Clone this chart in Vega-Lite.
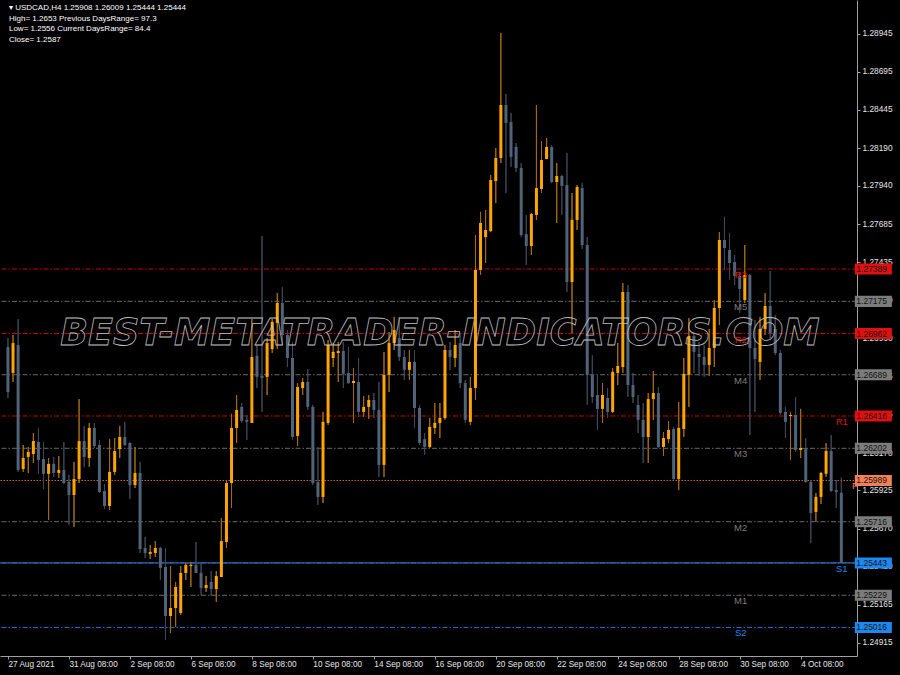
{
  "$schema": "https://vega.github.io/schema/vega-lite/v6.json",
  "width": 857,
  "height": 656,
  "autosize": {"type": "none"},
  "padding": {"left": 0, "top": 0, "right": 43, "bottom": 19},
  "background": "#000000",
  "config": {"view": {"stroke": null}, "font": "Liberation Sans"},
  "datasets": {
    "candles": [
      {"i":0,"o":1.26873,"h":1.26932,"l":1.26535,"c":1.26575},
      {"i":1,"o":1.26701,"h":1.26952,"l":1.26641,"c":1.26899},
      {"i":2,"o":1.26886,"h":1.27058,"l":1.26046,"c":1.26059},
      {"i":3,"o":1.26065,"h":1.26224,"l":1.26046,"c":1.26138},
      {"i":4,"o":1.26145,"h":1.26211,"l":1.26039,"c":1.26178},
      {"i":5,"o":1.26165,"h":1.26303,"l":1.26105,"c":1.2625},
      {"i":6,"o":1.26244,"h":1.26337,"l":1.26033,"c":1.26125},
      {"i":7,"o":1.26131,"h":1.26244,"l":1.25932,"c":1.26033},
      {"i":8,"o":1.26033,"h":1.26138,"l":1.25728,"c":1.26099},
      {"i":9,"o":1.26099,"h":1.26145,"l":1.26013,"c":1.26039},
      {"i":10,"o":1.26039,"h":1.26151,"l":1.26006,"c":1.26059},
      {"i":11,"o":1.26059,"h":1.26244,"l":1.25965,"c":1.25972},
      {"i":12,"o":1.25979,"h":1.26026,"l":1.25695,"c":1.25893},
      {"i":13,"o":1.25893,"h":1.26112,"l":1.25682,"c":1.25999},
      {"i":14,"o":1.25999,"h":1.26528,"l":1.25972,"c":1.2625},
      {"i":15,"o":1.2625,"h":1.2635,"l":1.26079,"c":1.26145},
      {"i":16,"o":1.26138,"h":1.2637,"l":1.26079,"c":1.26337},
      {"i":17,"o":1.26337,"h":1.2637,"l":1.26204,"c":1.26217},
      {"i":18,"o":1.26224,"h":1.26257,"l":1.25906,"c":1.25913},
      {"i":19,"o":1.25919,"h":1.25965,"l":1.258,"c":1.2582},
      {"i":20,"o":1.2582,"h":1.26263,"l":1.25794,"c":1.26046},
      {"i":21,"o":1.26046,"h":1.2627,"l":1.26026,"c":1.26184},
      {"i":22,"o":1.26197,"h":1.2635,"l":1.26138,"c":1.26277},
      {"i":23,"o":1.26277,"h":1.26377,"l":1.26217,"c":1.26224},
      {"i":24,"o":1.26237,"h":1.26244,"l":1.25866,"c":1.25959},
      {"i":25,"o":1.25959,"h":1.26211,"l":1.25939,"c":1.26039},
      {"i":26,"o":1.26039,"h":1.26112,"l":1.25509,"c":1.25535},
      {"i":27,"o":1.25542,"h":1.25615,"l":1.25476,"c":1.25509},
      {"i":28,"o":1.25503,"h":1.25562,"l":1.25469,"c":1.25516},
      {"i":29,"o":1.25509,"h":1.25588,"l":1.25483,"c":1.25542},
      {"i":30,"o":1.25542,"h":1.25549,"l":1.2533,"c":1.2541},
      {"i":31,"o":1.25417,"h":1.25542,"l":1.24933,"c":1.25092},
      {"i":32,"o":1.25092,"h":1.25423,"l":1.24979,"c":1.25145},
      {"i":33,"o":1.25145,"h":1.25317,"l":1.2502,"c":1.25284},
      {"i":34,"o":1.25112,"h":1.25423,"l":1.25099,"c":1.25377},
      {"i":35,"o":1.25377,"h":1.25443,"l":1.2533,"c":1.2543},
      {"i":36,"o":1.25423,"h":1.2545,"l":1.25284,"c":1.2543},
      {"i":37,"o":1.2543,"h":1.25582,"l":1.25377,"c":1.25377},
      {"i":38,"o":1.25377,"h":1.25443,"l":1.25231,"c":1.25277},
      {"i":39,"o":1.25277,"h":1.25357,"l":1.25251,"c":1.25297},
      {"i":40,"o":1.25317,"h":1.2539,"l":1.25225,"c":1.2527},
      {"i":41,"o":1.2527,"h":1.2539,"l":1.25185,"c":1.25357},
      {"i":42,"o":1.2535,"h":1.25741,"l":1.2535,"c":1.25588},
      {"i":43,"o":1.25582,"h":1.25992,"l":1.25542,"c":1.25972},
      {"i":44,"o":1.25972,"h":1.2643,"l":1.25807,"c":1.26337},
      {"i":45,"o":1.26337,"h":1.26555,"l":1.26237,"c":1.26456},
      {"i":46,"o":1.26476,"h":1.26502,"l":1.2637,"c":1.26383},
      {"i":47,"o":1.2639,"h":1.26423,"l":1.26257,"c":1.26377},
      {"i":48,"o":1.2637,"h":1.27058,"l":1.2637,"c":1.26807},
      {"i":49,"o":1.26814,"h":1.26886,"l":1.26602,"c":1.26675},
      {"i":50,"o":1.26682,"h":1.27607,"l":1.26443,"c":1.26668},
      {"i":51,"o":1.26675,"h":1.26932,"l":1.26555,"c":1.26899},
      {"i":52,"o":1.26859,"h":1.27058,"l":1.26833,"c":1.27039},
      {"i":53,"o":1.27032,"h":1.2723,"l":1.26859,"c":1.27164},
      {"i":54,"o":1.27164,"h":1.2727,"l":1.26886,"c":1.26952},
      {"i":55,"o":1.26952,"h":1.26985,"l":1.2674,"c":1.268},
      {"i":56,"o":1.268,"h":1.26906,"l":1.26257,"c":1.26277},
      {"i":57,"o":1.26284,"h":1.26634,"l":1.26217,"c":1.26608},
      {"i":58,"o":1.26601,"h":1.26668,"l":1.26555,"c":1.26641},
      {"i":59,"o":1.26641,"h":1.26727,"l":1.26456,"c":1.26476},
      {"i":60,"o":1.26476,"h":1.26489,"l":1.25959,"c":1.25972},
      {"i":61,"o":1.25979,"h":1.26211,"l":1.25827,"c":1.2588},
      {"i":62,"o":1.2588,"h":1.26443,"l":1.2584,"c":1.26377},
      {"i":63,"o":1.2637,"h":1.26919,"l":1.26357,"c":1.26886},
      {"i":64,"o":1.268,"h":1.26899,"l":1.2674,"c":1.2684},
      {"i":65,"o":1.26833,"h":1.26906,"l":1.26641,"c":1.26846},
      {"i":66,"o":1.26846,"h":1.26906,"l":1.26601,"c":1.26695},
      {"i":67,"o":1.26701,"h":1.26873,"l":1.26628,"c":1.26634},
      {"i":68,"o":1.26634,"h":1.26734,"l":1.2637,"c":1.26648},
      {"i":69,"o":1.26641,"h":1.268,"l":1.2641,"c":1.26443},
      {"i":70,"o":1.26443,"h":1.26548,"l":1.2641,"c":1.26476},
      {"i":71,"o":1.26476,"h":1.26555,"l":1.26397,"c":1.26522},
      {"i":72,"o":1.26522,"h":1.26568,"l":1.26403,"c":1.26456},
      {"i":73,"o":1.26456,"h":1.26641,"l":1.26013,"c":1.26092},
      {"i":74,"o":1.26092,"h":1.2684,"l":1.26013,"c":1.26688},
      {"i":75,"o":1.26688,"h":1.26972,"l":1.26575,"c":1.26899},
      {"i":76,"o":1.26899,"h":1.27072,"l":1.26853,"c":1.26985},
      {"i":77,"o":1.26932,"h":1.27072,"l":1.2678,"c":1.26807},
      {"i":78,"o":1.26807,"h":1.26853,"l":1.26655,"c":1.26721},
      {"i":79,"o":1.26721,"h":1.26853,"l":1.26655,"c":1.26774},
      {"i":80,"o":1.26774,"h":1.26853,"l":1.26337,"c":1.26469},
      {"i":81,"o":1.26469,"h":1.26489,"l":1.26224,"c":1.26237},
      {"i":82,"o":1.26263,"h":1.26303,"l":1.26158,"c":1.26211},
      {"i":83,"o":1.26211,"h":1.26403,"l":1.26204,"c":1.26344},
      {"i":84,"o":1.26337,"h":1.26502,"l":1.26297,"c":1.2637},
      {"i":85,"o":1.2637,"h":1.26502,"l":1.2627,"c":1.26403},
      {"i":86,"o":1.26403,"h":1.26886,"l":1.2639,"c":1.26853},
      {"i":87,"o":1.26853,"h":1.26906,"l":1.26721,"c":1.26807},
      {"i":88,"o":1.268,"h":1.26985,"l":1.2674,"c":1.26886},
      {"i":89,"o":1.26899,"h":1.26965,"l":1.26601,"c":1.26634},
      {"i":90,"o":1.26634,"h":1.26655,"l":1.2637,"c":1.2639},
      {"i":91,"o":1.26377,"h":1.26675,"l":1.26357,"c":1.26602},
      {"i":92,"o":1.26602,"h":1.27614,"l":1.26522,"c":1.27383},
      {"i":93,"o":1.27383,"h":1.27767,"l":1.2735,"c":1.27694},
      {"i":94,"o":1.276,"h":1.2778,"l":1.27429,"c":1.27647},
      {"i":95,"o":1.2764,"h":1.28012,"l":1.27633,"c":1.27978},
      {"i":96,"o":1.27971,"h":1.2819,"l":1.27826,"c":1.28124},
      {"i":97,"o":1.28124,"h":1.28952,"l":1.28091,"c":1.28475},
      {"i":98,"o":1.28475,"h":1.28548,"l":1.27892,"c":1.28356},
      {"i":99,"o":1.28362,"h":1.28422,"l":1.28065,"c":1.28131},
      {"i":100,"o":1.28197,"h":1.28223,"l":1.28032,"c":1.28058},
      {"i":101,"o":1.28058,"h":1.28091,"l":1.276,"c":1.27614},
      {"i":102,"o":1.2762,"h":1.27747,"l":1.27416,"c":1.27541},
      {"i":103,"o":1.27541,"h":1.2776,"l":1.27482,"c":1.27753},
      {"i":104,"o":1.27747,"h":1.28475,"l":1.27714,"c":1.27925},
      {"i":105,"o":1.27919,"h":1.28236,"l":1.27892,"c":1.28111},
      {"i":106,"o":1.28117,"h":1.28256,"l":1.28117,"c":1.28197},
      {"i":107,"o":1.28197,"h":1.2821,"l":1.27958,"c":1.27965},
      {"i":108,"o":1.27965,"h":1.28091,"l":1.27694,"c":1.28005},
      {"i":109,"o":1.28005,"h":1.28012,"l":1.27747,"c":1.27939},
      {"i":110,"o":1.27945,"h":1.28157,"l":1.27237,"c":1.27303},
      {"i":111,"o":1.27303,"h":1.27892,"l":1.26965,"c":1.27714},
      {"i":112,"o":1.27714,"h":1.27945,"l":1.27647,"c":1.27932},
      {"i":113,"o":1.27925,"h":1.27958,"l":1.27521,"c":1.27548},
      {"i":114,"o":1.27548,"h":1.276,"l":1.26489,"c":1.26688},
      {"i":115,"o":1.26688,"h":1.2682,"l":1.26502,"c":1.26542},
      {"i":116,"o":1.26555,"h":1.26688,"l":1.26324,"c":1.26463},
      {"i":117,"o":1.26463,"h":1.26634,"l":1.2637,"c":1.26555},
      {"i":118,"o":1.26535,"h":1.26601,"l":1.26403,"c":1.26443},
      {"i":119,"o":1.26443,"h":1.26734,"l":1.26436,"c":1.26708},
      {"i":120,"o":1.26701,"h":1.26899,"l":1.26621,"c":1.26747},
      {"i":121,"o":1.2674,"h":1.27296,"l":1.26701,"c":1.27237},
      {"i":122,"o":1.27237,"h":1.27283,"l":1.26542,"c":1.26621},
      {"i":123,"o":1.26621,"h":1.26701,"l":1.26502,"c":1.26542},
      {"i":124,"o":1.26489,"h":1.26555,"l":1.26303,"c":1.2639},
      {"i":125,"o":1.2639,"h":1.26502,"l":1.26105,"c":1.26277},
      {"i":126,"o":1.26277,"h":1.26568,"l":1.26105,"c":1.26528},
      {"i":127,"o":1.26528,"h":1.26714,"l":1.2639,"c":1.26568},
      {"i":128,"o":1.26568,"h":1.26608,"l":1.26204,"c":1.26211},
      {"i":129,"o":1.26211,"h":1.2631,"l":1.26151,"c":1.2627},
      {"i":130,"o":1.26263,"h":1.26383,"l":1.26237,"c":1.26324},
      {"i":131,"o":1.2633,"h":1.26344,"l":1.25992,"c":1.25999},
      {"i":132,"o":1.25999,"h":1.26509,"l":1.25926,"c":1.26337},
      {"i":133,"o":1.2633,"h":1.268,"l":1.26277,"c":1.26695},
      {"i":134,"o":1.26688,"h":1.27065,"l":1.26476,"c":1.26946},
      {"i":135,"o":1.26946,"h":1.26972,"l":1.26701,"c":1.2684},
      {"i":136,"o":1.26826,"h":1.26906,"l":1.26682,"c":1.26807},
      {"i":137,"o":1.26807,"h":1.26886,"l":1.26675,"c":1.26754},
      {"i":138,"o":1.26754,"h":1.26992,"l":1.26682,"c":1.26866},
      {"i":139,"o":1.26866,"h":1.27184,"l":1.2674,"c":1.27131},
      {"i":140,"o":1.27131,"h":1.27633,"l":1.27018,"c":1.27581},
      {"i":141,"o":1.27581,"h":1.27734,"l":1.27383,"c":1.27528},
      {"i":142,"o":1.27515,"h":1.27627,"l":1.27316,"c":1.27429},
      {"i":143,"o":1.27435,"h":1.27482,"l":1.27283,"c":1.27343},
      {"i":144,"o":1.27343,"h":1.2737,"l":1.27098,"c":1.27257},
      {"i":145,"o":1.27184,"h":1.27548,"l":1.27164,"c":1.2735},
      {"i":146,"o":1.2735,"h":1.27356,"l":1.2629,"c":1.26866},
      {"i":147,"o":1.26866,"h":1.27052,"l":1.26443,"c":1.26793},
      {"i":148,"o":1.26774,"h":1.27072,"l":1.26655,"c":1.26992},
      {"i":149,"o":1.26992,"h":1.2723,"l":1.26952,"c":1.27144},
      {"i":150,"o":1.27144,"h":1.27376,"l":1.26919,"c":1.26965},
      {"i":151,"o":1.26992,"h":1.27085,"l":1.2682,"c":1.26833},
      {"i":152,"o":1.26833,"h":1.26853,"l":1.26423,"c":1.26436},
      {"i":153,"o":1.26443,"h":1.26476,"l":1.2627,"c":1.26377},
      {"i":154,"o":1.26416,"h":1.26443,"l":1.26125,"c":1.26423},
      {"i":155,"o":1.26423,"h":1.26542,"l":1.26178,"c":1.26191},
      {"i":156,"o":1.26191,"h":1.26463,"l":1.26138,"c":1.26204},
      {"i":157,"o":1.26204,"h":1.2627,"l":1.25972,"c":1.25979},
      {"i":158,"o":1.25979,"h":1.25992,"l":1.25575,"c":1.25774},
      {"i":159,"o":1.25781,"h":1.25906,"l":1.25715,"c":1.2588},
      {"i":160,"o":1.2588,"h":1.26046,"l":1.25834,"c":1.26039},
      {"i":161,"o":1.26033,"h":1.26237,"l":1.26013,"c":1.26184},
      {"i":162,"o":1.26184,"h":1.2629,"l":1.25913,"c":1.25919},
      {"i":163,"o":1.25926,"h":1.25992,"l":1.25807,"c":1.25913},
      {"i":164,"o":1.25908,"h":1.26009,"l":1.25444,"c":1.25444}
    ],
    "levels": [
      {"name":"R3","kind":"R","price":1.27389},
      {"name":"M5","kind":"M","price":1.27175},
      {"name":"R2","kind":"R","price":1.26962},
      {"name":"M4","kind":"M","price":1.26689},
      {"name":"R1","kind":"R","price":1.26416},
      {"name":"M3","kind":"M","price":1.26202},
      {"name":"P","kind":"P","price":1.25989},
      {"name":"M2","kind":"M","price":1.25716},
      {"name":"S1","kind":"S","price":1.25443},
      {"name":"M1","kind":"M","price":1.25229},
      {"name":"S2","kind":"S","price":1.25016}
    ]
  },
  "layer": [
    {
      "data": {"name": "candles"},
      "mark": {"type": "rule", "strokeWidth": 1},
      "encoding": {
        "x": {
          "field": "i", "type": "quantitative",
          "scale": {"domain": [-0.58, 166.1], "nice": false, "zero": false},
          "axis": {
            "values": [0,12,24,36,48,60,72,84,96,108,120,132,144,156],
            "labelExpr": "['27 Aug 2021','31 Aug 08:00','2 Sep 08:00','6 Sep 08:00','8 Sep 08:00','10 Sep 08:00','14 Sep 08:00','16 Sep 08:00','20 Sep 08:00','22 Sep 08:00','24 Sep 08:00','28 Sep 08:00','30 Sep 08:00','4 Oct 08:00'][round(datum.value/12)]",
            "labelAlign": "left", "labelBaseline": "top", "labelColor": "#e6e6e6",
            "labelFont": "Liberation Sans", "labelFontSize": 8.2, "labelPadding": 1,
            "labelOverlap": false, "labelFlush": false,
            "tickColor": "#a0a0a0", "tickSize": 3, "domainColor": "#a0a0a0",
            "grid": false, "title": null
          }
        },
        "y": {
          "field": "l", "type": "quantitative",
          "scale": {"domain": [1.24827, 1.2917], "nice": false, "zero": false},
          "axis": {
            "orient": "right",
            "values": [1.28945,1.28695,1.28445,1.2819,1.2794,1.27685,1.27435,1.2718,1.2693,1.26675,1.26425,1.2617,1.25925,1.2567,1.2542,1.25165,1.24915],
            "format": ".5f", "labelAlign": "left", "labelBaseline": "middle",
            "labelColor": "#e6e6e6", "labelFont": "Liberation Sans", "labelFontSize": 8.3,
            "labelPadding": 2, "labelOverlap": false, "labelFlush": false,
            "tickColor": "#a0a0a0", "tickSize": 3, "domainColor": "#a0a0a0",
            "grid": false, "title": null
          }
        },
        "y2": {"field": "h"},
        "color": {"condition": {"test": "datum.c >= datum.o", "value": "#a36c12"}, "value": "#3c4859"}
      }
    },
    {
      "data": {"name": "levels"},
      "mark": {"type": "rule", "strokeWidth": 1},
      "encoding": {
        "y": {"field": "price", "type": "quantitative"},
        "stroke": {"field": "kind", "type": "nominal", "scale": {"domain": ["R","M","P","S"], "range": ["#cc0000","#6a6a6a","#c8683c","#1f72d8"]}, "legend": null},
        "strokeDash": {"field": "kind", "type": "nominal", "scale": {"domain": ["R","M","P","S"], "range": [[5,2,1.5,2],[5,2,1.5,2],[1.5,1.5],[5,2,1.5,2]]}, "legend": null}
      }
    },
    {
      "data": {"name": "candles"},
      "transform": [{"filter": "datum.i == 164"}],
      "mark": {"type": "rule", "stroke": "#2b67b3", "strokeWidth": 1.2},
      "encoding": {
        "y": {"field": "c", "type": "quantitative"}
      }
    },
    {
      "data": {"name": "candles"},
      "mark": {"type": "rule", "strokeWidth": 1},
      "encoding": {
        "x": {"field": "i", "type": "quantitative"},
        "y": {"field": "l", "type": "quantitative"},
        "y2": {"field": "h"},
        "color": {"condition": {"test": "datum.c >= datum.o", "value": "#a36c12"}, "value": "#3c4859"}
      }
    },
    {
      "data": {"name": "candles"},
      "mark": {"type": "bar", "width": 3},
      "encoding": {
        "x": {"field": "i", "type": "quantitative"},
        "y": {"field": "o", "type": "quantitative"},
        "y2": {"field": "c"},
        "color": {"condition": {"test": "datum.c >= datum.o", "value": "#ffa500"}, "value": "#506379"}
      }
    },
    {
      "data": {"values": [{"site": "BEST-METATRADER-INDICATORS.COM"}]},
      "mark": {"type": "text", "font": "DejaVu Sans", "fontSize": 36.5, "fontWeight": "bold", "fontStyle": "italic", "fill": "transparent", "stroke": "#bdbdbd", "strokeWidth": 0.8, "align": "center", "baseline": "alphabetic"},
      "encoding": {
        "x": {"datum": 85},
        "y": {"datum": 1.26886},
        "text": {"field": "site"}
      }
    },
    {
      "data": {"name": "levels"},
      "transform": [{"filter": "datum.name != 'R1' && datum.name != 'S1' && datum.name != 'P'"}],
      "mark": {"type": "text", "fontSize": 9.5, "align": "center", "baseline": "middle", "dy": 6},
      "encoding": {
        "x": {"datum": 144.2},
        "y": {"field": "price", "type": "quantitative"},
        "text": {"field": "name"},
        "fill": {"field": "kind", "type": "nominal", "scale": {"domain": ["R","M","P","S"], "range": ["#e01010","#7c7c7c","#f2805a","#1e88f0"]}, "legend": null}
      }
    },
    {
      "data": {"name": "levels"},
      "transform": [{"filter": "datum.name == 'R1' || datum.name == 'S1'"}],
      "mark": {"type": "text", "fontSize": 9.5, "align": "center", "baseline": "middle", "dy": 6},
      "encoding": {
        "x": {"datum": 164.1},
        "y": {"field": "price", "type": "quantitative"},
        "text": {"field": "name"},
        "fill": {"field": "kind", "type": "nominal", "legend": null}
      }
    },
    {
      "data": {"name": "levels"},
      "transform": [{"filter": "datum.name == 'P'"}],
      "mark": {"type": "text", "fontSize": 9.5, "align": "left", "baseline": "middle", "dy": 6},
      "encoding": {
        "x": {"datum": 166.1},
        "y": {"field": "price", "type": "quantitative"},
        "text": {"field": "name"},
        "fill": {"field": "kind", "type": "nominal", "legend": null}
      }
    },
    {
      "data": {"name": "levels"},
      "mark": {"type": "point", "shape": "M-1,-0.3H1V0.3H-1Z", "filled": true, "size": 1369, "opacity": 1},
      "encoding": {
        "x": {"datum": 170.3},
        "y": {"field": "price", "type": "quantitative"},
        "fill": {"field": "kind", "type": "nominal", "legend": null}
      }
    },
    {
      "data": {"name": "levels"},
      "mark": {"type": "text", "fontSize": 8.5, "align": "left", "baseline": "middle", "fill": "#141414"},
      "encoding": {
        "x": {"datum": 166.95},
        "y": {"field": "price", "type": "quantitative"},
        "text": {"field": "price", "type": "quantitative", "format": ".5f"}
      }
    },
    {
      "data": {"values": [{"symbol": "USDCAD"}]},
      "mark": {
        "type": "text", "align": "left", "baseline": "top", "fontSize": 8, "lineHeight": 10.5, "fill": "#ffffff", "dy": 4,
        "text": ["▾ USDCAD,H4  1.25908 1.26009 1.25444 1.25444", "High= 1.2653 Previous DaysRange= 97.3", "Low= 1.2556 Current DaysRange= 84.4", "Close= 1.2587"]
      },
      "encoding": {
        "x": {"datum": 0.2},
        "y": {"datum": 1.2917}
      }
    }
  ]
}
